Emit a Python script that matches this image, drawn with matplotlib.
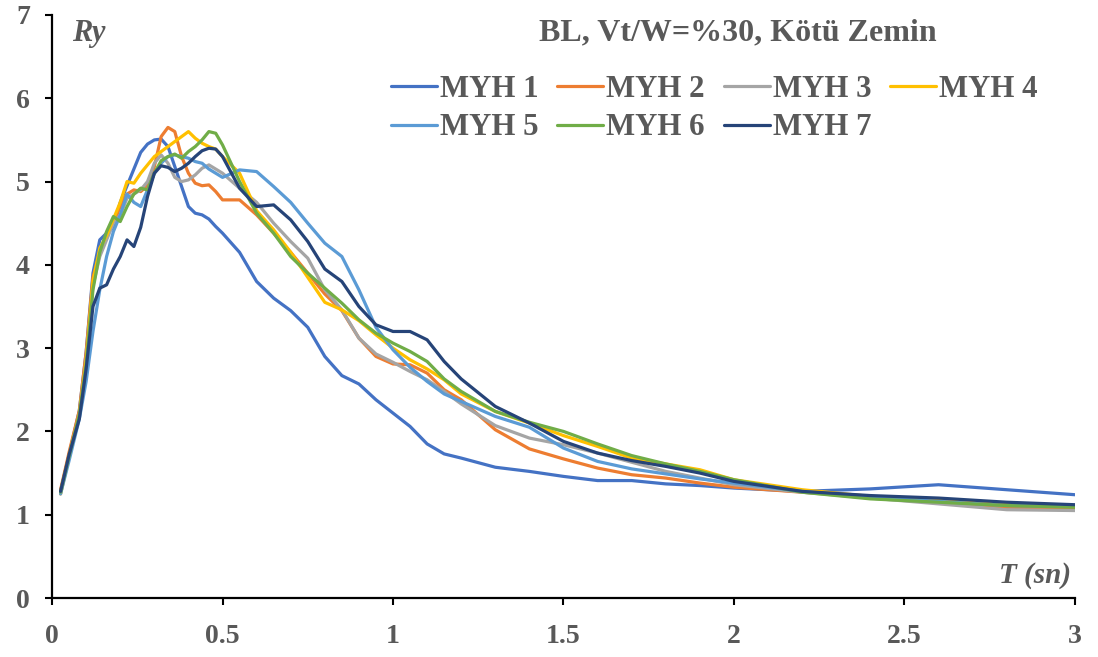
import matplotlib
matplotlib.use("Agg")
import matplotlib.pyplot as plt

plt.rcParams['font.family'] = ['Liberation Serif', 'DejaVu Serif']
plt.rcParams['font.weight'] = 'bold'

# Period values T (sn)
T = [0.025, 0.05, 0.08, 0.10, 0.12, 0.14, 0.16, 0.18, 0.20, 0.22, 0.24, 0.26, 0.28,
     0.30, 0.32, 0.34, 0.36, 0.38, 0.40, 0.42, 0.44, 0.46, 0.48, 0.50, 0.55,
     0.60, 0.65, 0.70, 0.75, 0.80, 0.85, 0.90, 0.95, 1.00, 1.05, 1.10, 1.15,
     1.20, 1.30, 1.40, 1.50, 1.60, 1.70, 1.80, 1.90, 2.00, 2.20, 2.40, 2.60,
     2.80, 3.00]

myh1 = [1.28, 1.72, 2.25, 2.95, 3.90, 4.30, 4.38, 4.45, 4.75, 4.95, 5.15, 5.35, 5.45,
        5.50, 5.51, 5.42, 5.18, 4.94, 4.70, 4.62, 4.60, 4.55, 4.46, 4.38, 4.15,
        3.80, 3.60, 3.45, 3.25, 2.90, 2.67, 2.57, 2.38, 2.22, 2.06, 1.85, 1.73,
        1.68, 1.57, 1.52, 1.46, 1.41, 1.41, 1.37, 1.35, 1.32, 1.28, 1.31, 1.36,
        1.30, 1.24]
myh2 = [1.30, 1.75, 2.25, 2.95, 3.85, 4.15, 4.35, 4.50, 4.70, 4.85, 4.90, 4.88, 4.95,
        5.18, 5.54, 5.65, 5.60, 5.30, 5.10, 4.98, 4.95, 4.96, 4.88, 4.78, 4.78,
        4.60, 4.38, 4.15, 3.90, 3.65, 3.45, 3.12, 2.90, 2.81, 2.80, 2.70, 2.50,
        2.38, 2.02, 1.79, 1.67, 1.56, 1.48, 1.44, 1.38, 1.33, 1.27, 1.22, 1.15,
        1.08, 1.07]
myh3 = [1.25, 1.70, 2.20, 2.85, 3.75, 4.10, 4.30, 4.50, 4.60, 4.80, 4.85, 4.90, 5.00,
        5.22, 5.32, 5.22, 5.05, 5.00, 5.02, 5.08, 5.16, 5.20, 5.15, 5.10, 4.92,
        4.75, 4.50, 4.28, 4.08, 3.70, 3.46, 3.12, 2.93, 2.83, 2.72, 2.62, 2.48,
        2.33, 2.07, 1.92, 1.84, 1.74, 1.63, 1.52, 1.44, 1.36, 1.27, 1.20, 1.13,
        1.06, 1.05]
myh4 = [1.25, 1.70, 2.20, 2.85, 3.80, 4.20, 4.35, 4.55, 4.75, 5.00, 4.98, 5.10, 5.20,
        5.30, 5.36, 5.42, 5.48, 5.54, 5.60, 5.52, 5.46, 5.42, 5.39, 5.30, 5.10,
        4.65, 4.42, 4.15, 3.85, 3.55, 3.46, 3.33, 3.16, 3.00, 2.86, 2.75, 2.62,
        2.45, 2.24, 2.10, 1.95, 1.82, 1.68, 1.61, 1.54, 1.42, 1.30, 1.22, 1.17,
        1.12, 1.10]
myh5 = [1.25, 1.65, 2.15, 2.60, 3.20, 3.70, 4.10, 4.40, 4.60, 4.85, 4.75, 4.70, 4.90,
        5.10, 5.22, 5.30, 5.32, 5.30, 5.28, 5.24, 5.22, 5.15, 5.10, 5.05, 5.14,
        5.12, 4.94, 4.75, 4.50, 4.26, 4.10, 3.70, 3.25, 2.98, 2.77, 2.60, 2.45,
        2.36, 2.18, 2.05, 1.80, 1.64, 1.55, 1.49, 1.43, 1.38, 1.28, 1.21, 1.16,
        1.11, 1.10]
myh6 = [1.27, 1.70, 2.20, 2.80, 3.70, 4.15, 4.40, 4.58, 4.52, 4.70, 4.85, 4.92, 4.90,
        5.10, 5.25, 5.30, 5.33, 5.28, 5.36, 5.42, 5.50, 5.60, 5.58, 5.44, 5.00,
        4.62, 4.38, 4.10, 3.90, 3.72, 3.54, 3.34, 3.18, 3.06, 2.96, 2.84, 2.63,
        2.48, 2.24, 2.11, 2.00, 1.85, 1.71, 1.61, 1.52, 1.42, 1.27, 1.19, 1.15,
        1.11, 1.09]
myh7 = [1.28, 1.72, 2.15, 2.75, 3.50, 3.72, 3.76, 3.95, 4.10, 4.30, 4.22, 4.45, 4.82,
        5.10, 5.19, 5.17, 5.12, 5.16, 5.22, 5.30, 5.37, 5.40, 5.39, 5.30, 4.92,
        4.70, 4.72, 4.54, 4.28, 3.95, 3.80, 3.50, 3.28, 3.20, 3.20, 3.10, 2.84,
        2.63, 2.30, 2.10, 1.88, 1.74, 1.65, 1.58, 1.50, 1.40, 1.28, 1.23, 1.20,
        1.15, 1.12]

labels = ['MYH 1', 'MYH 2', 'MYH 3', 'MYH 4', 'MYH 5', 'MYH 6', 'MYH 7']
series = [myh1, myh2, myh3, myh4, myh5, myh6, myh7]
colors = ['#4472C4', '#ED7D31', '#A5A5A5', '#FFC000', '#5B9BD5', '#70AD47', '#264478']

text_color = '#595959'

fig = plt.figure(figsize=(10.98, 6.57), dpi=100)
ax = fig.add_axes([0.0474, 0.0898, 0.9316, 0.8874])

handles = []
for ys, lab, col in zip(series, labels, colors):
    h, = ax.plot(T, ys, color=col, lw=2.3, label=lab, solid_capstyle='round')
    handles.append(h)

ax.set_xlim(0, 3)
ax.set_ylim(0, 7)
ax.set_xticks([0, 0.5, 1, 1.5, 2, 2.5, 3])
ax.set_xticklabels(['0', '0.5', '1', '1.5', '2', '2.5', '3'])
ax.set_yticks(range(0, 8))

for side in ['top', 'right']:
    ax.spines[side].set_visible(False)
for side in ['left', 'bottom']:
    ax.spines[side].set_linewidth(1.6)
    ax.spines[side].set_color('black')

ax.tick_params(axis='both', direction='out', length=5, width=1.5, colors='black',
               labelcolor=text_color, labelsize=20)
ax.tick_params(axis='y', pad=11)
ax.tick_params(axis='x', pad=14)
for lbl in ax.get_xticklabels() + ax.get_yticklabels():
    lbl.set_fontweight('bold')

ax.text(2.01, 6.78, 'BL, Vt/W=%30, Kötü Zemin', ha='center', va='center',
        fontsize=23, fontweight='bold', color=text_color)
ax.text(0.058, 6.78, 'Ry', ha='left', va='center', fontsize=22,
        fontweight='bold', fontstyle='italic', color=text_color)
ax.text(2.99, 0.27, 'T (sn)', ha='right', va='center', fontsize=21,
        fontweight='bold', fontstyle='italic', color=text_color)

# row-major order for a 4-column legend
order = [0, 4, 1, 5, 2, 6, 3]
leg = ax.legend([handles[i] for i in order], [labels[i] for i in order],
                ncol=4, loc='upper left', bbox_to_anchor=(0.319, 0.918),
                frameon=False, fontsize=22.2, handlelength=1.5, handletextpad=0.1,
                columnspacing=0.6, labelspacing=0.3, borderaxespad=0)
for t in leg.get_texts():
    t.set_color(text_color)
    t.set_fontweight('bold')

fig.savefig('out.png', dpi=100)
